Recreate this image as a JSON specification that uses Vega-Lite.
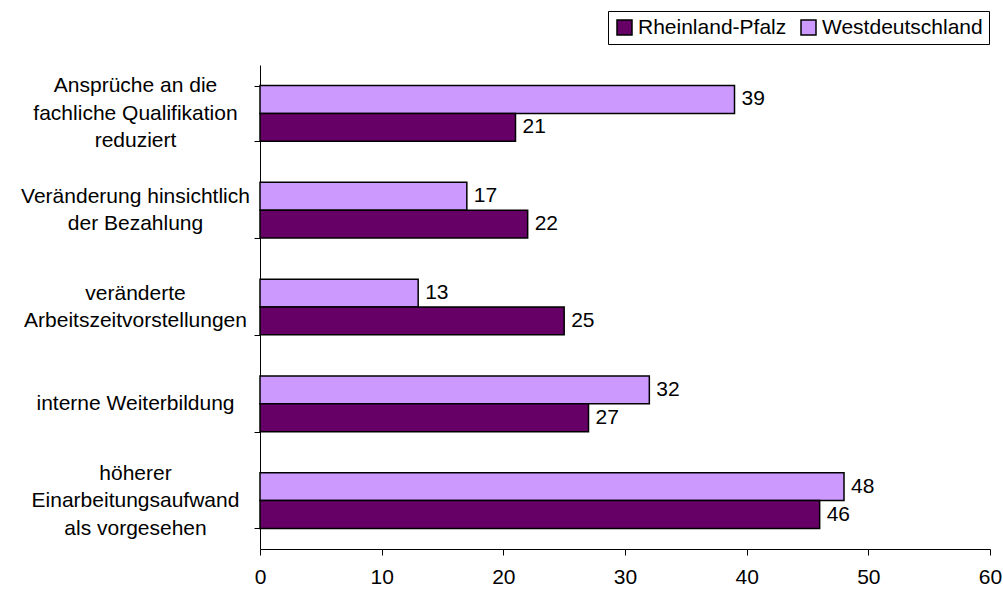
{
  "$schema": "https://vega.github.io/schema/vega-lite/v6.json",
  "width": 730,
  "height": 484,
  "autosize": "none",
  "padding": {"left": 260, "top": 65, "right": 13, "bottom": 41},
  "background": "white",
  "config": {
    "font": "Liberation Sans",
    "view": {"stroke": null}
  },
  "data": {
    "values": [
      {"kategorie": "Ansprüche an die\nfachliche Qualifikation\nreduziert", "region": "Westdeutschland", "wert": 39},
      {"kategorie": "Ansprüche an die\nfachliche Qualifikation\nreduziert", "region": "Rheinland-Pfalz", "wert": 21},
      {"kategorie": "Veränderung hinsichtlich\nder Bezahlung", "region": "Westdeutschland", "wert": 17},
      {"kategorie": "Veränderung hinsichtlich\nder Bezahlung", "region": "Rheinland-Pfalz", "wert": 22},
      {"kategorie": "veränderte\nArbeitszeitvorstellungen", "region": "Westdeutschland", "wert": 13},
      {"kategorie": "veränderte\nArbeitszeitvorstellungen", "region": "Rheinland-Pfalz", "wert": 25},
      {"kategorie": "interne Weiterbildung", "region": "Westdeutschland", "wert": 32},
      {"kategorie": "interne Weiterbildung", "region": "Rheinland-Pfalz", "wert": 27},
      {"kategorie": "höherer\nEinarbeitungsaufwand\nals vorgesehen", "region": "Westdeutschland", "wert": 48},
      {"kategorie": "höherer\nEinarbeitungsaufwand\nals vorgesehen", "region": "Rheinland-Pfalz", "wert": 46}
    ]
  },
  "encoding": {
    "y": {
      "field": "kategorie",
      "type": "nominal",
      "sort": null,
      "scale": {"paddingInner": 0.425, "paddingOuter": 0.2125},
      "axis": {
        "title": null,
        "tickBand": "extent",
        "tickSize": 6,
        "tickColor": "black",
        "domainColor": "black",
        "labelFontSize": 21,
        "labelColor": "black",
        "labelAlign": "center",
        "labelBaseline": "middle",
        "labelLineHeight": 27.5,
        "labelLimit": 0,
        "labelExpr": "split(datum.label, '\\n')",
        "labelPadding": 119,
        "labelOffset": {"expr": "(length(split(datum.value, '\\n')) - 1) * -13.75"}
      }
    },
    "yOffset": {
      "field": "region",
      "type": "nominal",
      "sort": ["Westdeutschland", "Rheinland-Pfalz"],
      "scale": {"paddingInner": 0, "paddingOuter": 0}
    }
  },
  "layer": [
    {
      "mark": {"type": "bar", "stroke": "black", "strokeWidth": 1.5},
      "encoding": {
        "x": {
          "field": "wert",
          "type": "quantitative",
          "scale": {"domain": [0, 60], "nice": false},
          "axis": {
            "title": null,
            "values": [0, 10, 20, 30, 40, 50, 60],
            "grid": false,
            "tickSize": 6,
            "tickColor": "black",
            "domainColor": "black",
            "labelFontSize": 21,
            "labelColor": "black",
            "labelFlush": false,
            "labelPadding": 11
          }
        },
        "color": {
          "field": "region",
          "type": "nominal",
          "scale": {"domain": ["Rheinland-Pfalz", "Westdeutschland"], "range": ["#660066", "#CC99FF"]},
          "legend": {
            "title": null,
            "orient": "none",
            "direction": "horizontal",
            "legendX": 348,
            "legendY": -54,
            "padding": 6,
            "strokeColor": "black",
            "fillColor": "white",
            "symbolType": "square",
            "symbolSize": 225,
            "symbolStrokeColor": "black",
            "symbolStrokeWidth": 1.5,
            "symbolOpacity": 1,
            "labelFontSize": 21,
            "labelColor": "black",
            "labelLimit": 300,
            "labelOffset": 3,
            "columnPadding": 11
          }
        }
      }
    },
    {
      "mark": {"type": "text", "align": "left", "baseline": "middle", "dx": 7, "fontSize": 21, "color": "black"},
      "encoding": {
        "x": {"field": "wert", "type": "quantitative"},
        "text": {"field": "wert", "type": "quantitative"}
      }
    }
  ]
}
